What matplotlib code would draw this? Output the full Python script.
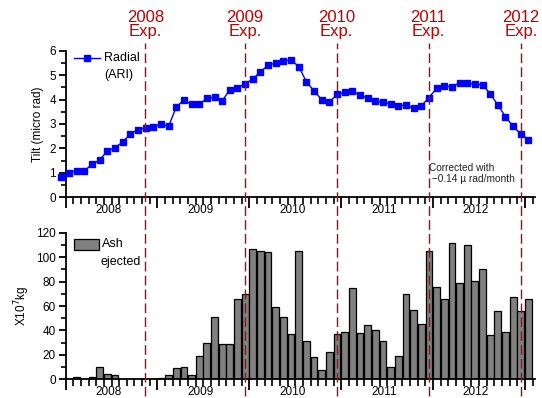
import numpy as np
import matplotlib
matplotlib.use('Agg')
import matplotlib.pyplot as plt
from matplotlib.lines import Line2D
from matplotlib.patches import Rectangle
import matplotlib.transforms as mtransforms

plt.rcParams['font.family'] = ['Liberation Sans', 'DejaVu Sans']

# ==================== 数据 ====================
# 月序号: 0 = 2007年12月, 1 = 2008年1月, ... 61 = 2013年1月
tilt = [0.85, 1.00, 1.09, 1.08, 1.35, 1.53, 1.90, 2.03, 2.26, 2.59,
        2.77, 2.85, 2.88, 3.01, 2.90, 3.70, 3.98, 3.80, 3.80, 4.05,
        4.09, 3.95, 4.40, 4.49, 4.65, 4.84, 5.14, 5.40, 5.50, 5.59,
        5.62, 5.35, 4.73, 4.35, 4.00, 3.90, 4.21, 4.30, 4.36, 4.17,
        4.08, 3.93, 3.89, 3.83, 3.72, 3.79, 3.64, 3.74, 4.08, 4.46,
        4.55, 4.53, 4.69, 4.69, 4.62, 4.61, 4.24, 3.78, 3.30, 2.90,
        2.59, 2.36]

ash = [0, 0, 2, 0, 2, 10, 4, 3, 0, 0,
       0, 0, 0, 1, 3, 9, 10, 3, 19, 30,
       51, 29, 29, 66, 70, 107, 105, 104, 59, 51,
       37, 105, 31, 18, 7, 22, 37, 39, 75, 38,
       44, 40, 31, 10, 19, 69.5, 57, 45, 105.5, 76,
       66, 112, 79, 110, 80.5, 90, 36, 56, 38.5, 67,
       56, 66]

years = ['2008', '2009', '2010', '2011', '2012']
# 考察时间 (月, 以2008年1月1日为0)
exp_labels = ['2008\nExp.', '2009\nExp.', '2010\nExp.', '2011\nExp.', '2012\nExp.']
exp_months = [10.4, 23.4, 35.4, 47.4, 59.45]

months = np.arange(len(tilt)) - 0.55

# ==================== 绘图 ====================
fig = plt.figure(figsize=(5.42, 3.98), dpi=100)
ax1 = fig.add_axes([0.121, 0.5043, 0.866, 0.3683])
ax2 = fig.add_axes([0.121, 0.0477, 0.866, 0.3669])

red = '#c00000'


def style_axis(ax):
    for s in ['top', 'right']:
        ax.spines[s].set_visible(False)
    for s in ['left', 'bottom']:
        ax.spines[s].set_linewidth(1.3)
    ax.set_xlim(0, 61.3)
    ax.set_xticks(np.arange(0, 61, 12))
    ax.set_xticks(np.arange(0, 62, 1), minor=True)
    ax.set_xticklabels([])
    ax.tick_params(axis='x', which='major', length=8, width=1.3, direction='out')
    ax.tick_params(axis='x', which='minor', length=5, width=1.2, direction='out')
    ax.tick_params(axis='y', which='major', length=5, width=1.3, labelsize=8.5, pad=2)
    ax.tick_params(axis='y', which='minor', length=3.5, width=1.2)
    for i, yr in enumerate(years):
        ax.text(6 + 12 * i - 0.4, -0.045, yr, transform=ax.get_xaxis_transform(),
                ha='center', va='top', fontsize=8.5)


# 倾斜
style_axis(ax1)
ax1.plot(months, tilt, color='#0000ff', lw=1, marker='s', markersize=4.3,
         clip_on=False, zorder=3)
ax1.set_ylim(0, 6)
ax1.set_yticks(np.arange(0, 7, 1))
ax1.set_yticks(np.arange(0, 6.1, 0.5), minor=True)
ax1.set_ylabel('Tilt (micro rad)', fontsize=8.5, labelpad=4)
ax1.plot([0.017, 0.074], [0.952, 0.952], color='#0000ff', lw=1,
         transform=ax1.transAxes)
ax1.plot([0.045], [0.952], color='#0000ff', marker='s', markersize=4.3,
         transform=ax1.transAxes)
ax1.text(0.082, 0.952, 'Radial', transform=ax1.transAxes, fontsize=9, va='center')
ax1.text(0.082, 0.835, '(ARI)', transform=ax1.transAxes, fontsize=9, va='center')
ax1.text(47.4, 0.97, 'Corrected with\n \u22120.14 \u00b5 rad/month', fontsize=7.3,
         family=['Liberation Sans Narrow', 'Liberation Sans', 'DejaVu Sans'],
         color='#222222', va='center', linespacing=1.05)

# 火山灰
style_axis(ax2)
ax2.bar(months, ash, width=0.88, color='#808080', edgecolor='black', lw=0.9, zorder=2)
ax2.set_ylim(0, 120)
ax2.set_yticks(np.arange(0, 121, 20))
ax2.set_yticks(np.arange(0, 121, 10), minor=True)
ax2.set_ylabel('X10$^7$kg', fontsize=8.5, labelpad=3)
ax2.add_patch(Rectangle((0.017, 0.885), 0.055, 0.075, transform=ax2.transAxes,
                        facecolor='#808080', edgecolor='black', lw=0.9))
ax2.text(0.078, 0.922, 'Ash', transform=ax2.transAxes, fontsize=9, va='center')
ax2.text(0.075, 0.80, 'ejected', transform=ax2.transAxes, fontsize=9, va='center')

# 考察线 (贯穿两个子图)
trans = mtransforms.blended_transform_factory(ax1.transData, fig.transFigure)
for m, lab in zip(exp_months, exp_labels):
    fig.add_artist(Line2D([m, m], [0.005, 0.893], transform=trans, color=red,
                          lw=1, dashes=(7, 3), zorder=5))
    fig.text(m, 0.975, lab, transform=trans, color=red, fontsize=12,
             ha='center', va='top', linespacing=0.95)

fig.savefig('out.png', dpi=100)
